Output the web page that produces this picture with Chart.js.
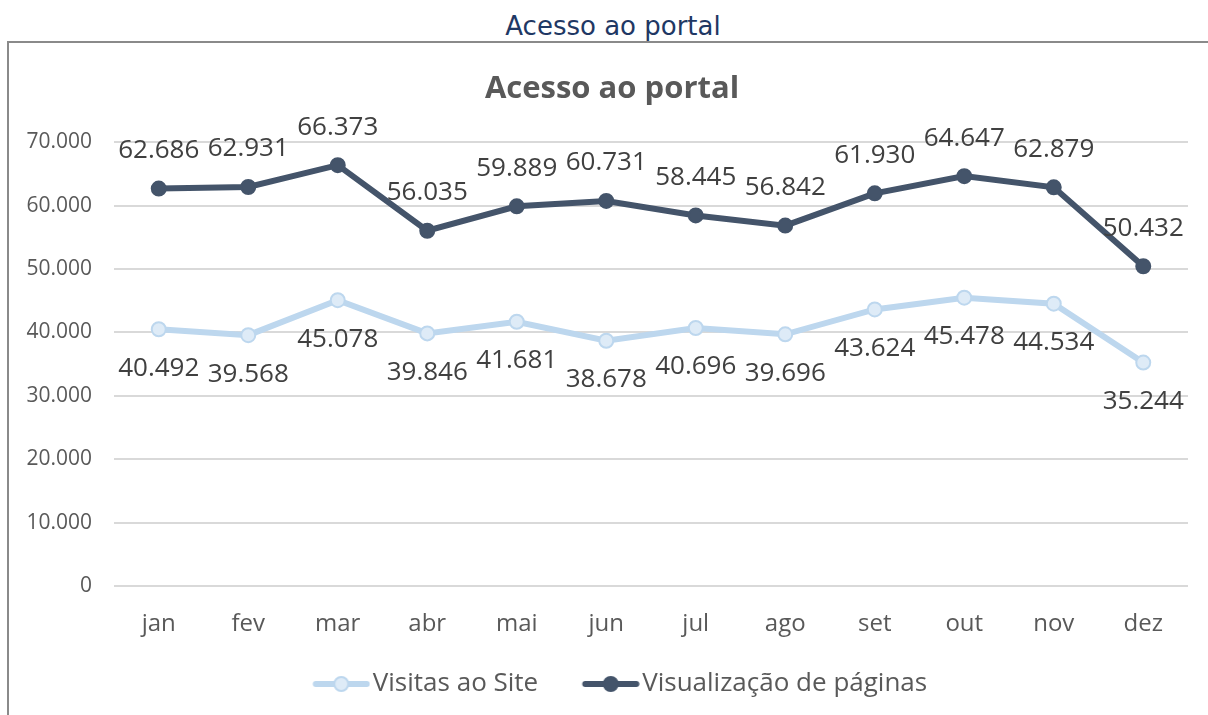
<!DOCTYPE html>
<html>
<head>
<meta charset="utf-8">
<script src="https://cdn.jsdelivr.net/npm/chart.js@4/dist/chart.umd.min.js"></script>
<style>
  html, body { margin: 0; padding: 0; background: #fff; }
  body { width: 1208px; height: 715px; position: relative; overflow: hidden; }
  #pageTitle { position: absolute; left: 0; width: 1226px; top: 10px; text-align: center;
    font-family: "DejaVu Sans", Verdana, sans-serif; font-size: 26px; color: #1F3864; line-height: 32px; }
  #frame { position: absolute; left: 7px; top: 41px; width: 1220px; height: 700px;
    border-left: 2px solid #8a8a8a; border-top: 2px solid #8a8a8a; }
  #wrap { position: absolute; left: 0; top: 0; width: 1208px; height: 715px; }
</style>
</head>
<body>
<div id="pageTitle">Acesso ao portal</div>
<div id="frame"></div>
<div id="wrap"><canvas id="c" width="1208" height="715"></canvas></div>
<script>
const chartTitle = "Acesso ao portal";
const months = ["jan","fev","mar","abr","mai","jun","jul","ago","set","out","nov","dez"];
const seriesNames = ["Visitas ao Site", "Visualização de páginas"];
const visitas = [40492, 39568, 45078, 39846, 41681, 38678, 40696, 39696, 43624, 45478, 44534, 35244];
const visualizacoes = [62686, 62931, 66373, 56035, 59889, 60731, 58445, 56842, 61930, 64647, 62879, 50432];
const yTicks = [0, 10000, 20000, 30000, 40000, 50000, 60000, 70000];

const FONT = "'Open Sans', 'Noto Sans', sans-serif";
const LIGHT_LINE = "#BDD7EE", LIGHT_FILL = "#DEEBF7", DARK = "#44546A";

function fmt(v) { return v.toLocaleString('de-DE'); }

function legendIcon(lineColor, fill, border) {
  const c = document.createElement('canvas');
  c.width = 84; c.height = 18;
  const g = c.getContext('2d');
  g.strokeStyle = lineColor; g.lineWidth = 6; g.lineCap = 'round';
  g.beginPath(); g.moveTo(29.5, 9); g.lineTo(80.5, 9); g.stroke();
  g.beginPath(); g.arc(55, 9, 7, 0, Math.PI * 2);
  g.fillStyle = fill; g.fill();
  g.lineWidth = 2; g.strokeStyle = border; g.stroke();
  return c;
}
const icons = [legendIcon(LIGHT_LINE, LIGHT_FILL, LIGHT_LINE), legendIcon(DARK, DARK, DARK)];

const labelPlugin = {
  id: 'valueLabels',
  afterDatasetsDraw(chart) {
    const ctx = chart.ctx;
    ctx.save();
    ctx.font = "26px " + FONT;
    ctx.fillStyle = "#404040";
    ctx.textAlign = "center";
    ctx.textBaseline = "middle";
    chart.data.datasets.forEach((ds, i) => {
      const meta = chart.getDatasetMeta(i);
      meta.data.forEach((pt, j) => {
        const off = ds.labelPos === 'above' ? -38 : 39;
        ctx.fillText(fmt(ds.data[j]), pt.x, pt.y + off);
      });
    });
    ctx.restore();
  }
};

new Chart(document.getElementById('c'), {
  type: 'line',
  data: {
    labels: months,
    datasets: [
      { label: seriesNames[0], data: visitas, borderColor: LIGHT_LINE, backgroundColor: LIGHT_FILL,
        pointBorderColor: LIGHT_LINE, pointBackgroundColor: LIGHT_FILL, borderWidth: 6,
        pointRadius: 7, pointBorderWidth: 2, labelPos: 'below', tension: 0 },
      { label: seriesNames[1], data: visualizacoes, borderColor: DARK, backgroundColor: DARK,
        pointBorderColor: DARK, pointBackgroundColor: DARK, borderWidth: 6,
        pointRadius: 7, pointBorderWidth: 2, labelPos: 'above', tension: 0 }
    ]
  },
  options: {
    responsive: false,
    animation: false,
    events: [],
    layout: { padding: { left: 16, right: 0, top: 58, bottom: 8 } },
    plugins: {
      title: { display: true, text: chartTitle, color: "#595959",
        font: { family: FONT, size: 31, weight: 'bold' }, padding: { top: 13, bottom: 34 } },
      legend: { position: 'bottom',
        labels: { usePointStyle: true, pointStyleWidth: 63, boxHeight: 18, padding: 28,
          color: "#595959", font: { family: FONT, size: 26 },
          generateLabels(chart) {
            return chart.data.datasets.map((ds, i) => ({
              text: ds.label, pointStyle: icons[i], fillStyle: ds.borderColor,
              strokeStyle: ds.borderColor, lineWidth: 0, hidden: false, datasetIndex: i,
              fontColor: "#595959"
            }));
          } } },
      tooltip: { enabled: false }
    },
    scales: {
      x: { offset: true,
        afterFit(s) { s.height = 57; },
        grid: { display: false, drawTicks: false },
        border: { display: false },
        ticks: { color: "#595959", font: { family: FONT, size: 24 }, padding: 24 } },
      y: { min: 0, max: 70000,
        afterBuildTicks(s) { s.ticks = yTicks.map(v => ({ value: v })); },
        afterFit(s) { s.width = 98; },
        grid: { color: "#D9D9D9", lineWidth: 2, drawTicks: false },
        border: { display: false },
        ticks: { color: "#595959", font: { family: FONT, size: 21 }, padding: 22,
          callback: v => fmt(v) } },
      yRight: { position: 'right', display: true,
        afterFit(s) { s.width = 20; },
        grid: { display: false, drawTicks: false },
        border: { display: false },
        ticks: { display: false } }
    }
  },
  plugins: [labelPlugin]
});
</script>
</body>
</html>
